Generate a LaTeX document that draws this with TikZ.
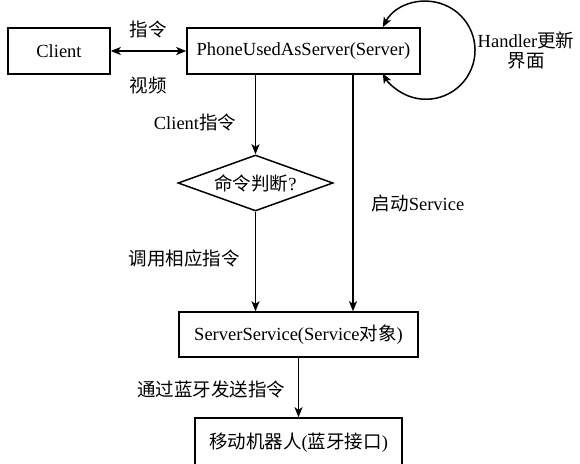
\documentclass[tikz,border=0pt]{standalone}
\usepackage{fontspec}
\setmainfont{Liberation Serif}
\newfontfamily\cjk{Noto Sans CJK SC}
\usetikzlibrary{shapes.geometric,arrows.meta,calc}
\tikzset{
  box/.style={draw,line width=1.5pt,inner sep=0pt},
  judgebox/.style={draw,diamond,line width=1.5pt,inner sep=0pt,aspect=2.77},
  flow/.style={line width=1.5pt,-{Stealth[length=10pt,width=8pt,inset=2.5pt]}},
  twoway/.style={line width=1.5pt,{Stealth[length=10pt,width=8pt,inset=2.5pt]}-{Stealth[length=10pt,width=8pt,inset=2.5pt]}},
  lbl/.style={inner sep=0pt}
}
\begin{document}
\begin{tikzpicture}[x=1pt,y=-1pt,font=\fontsize{18.5pt}{20pt}\selectfont]
\useasboundingbox (0,0) rectangle (580,463);
\clip (0,0) rectangle (580,463);
% 框
\node[box,minimum width=102pt,minimum height=46pt] (client) at (59,51) {Client};
\node[box,minimum width=233pt,minimum height=46pt] (server) at (303.5,51) {PhoneUsedAsServer(Server)};
\node[judgebox,minimum width=155pt,minimum height=56pt] (judge) at (255.5,183) {{\cjk 命令判断}?};
\node[box,minimum width=239pt,minimum height=45pt] (service) at (298.5,334.5) {ServerService(Service{\cjk 对象})};
\node[box,minimum width=207pt,minimum height=50pt] (robot) at (298.5,443) {{\cjk 移动机器人}({\cjk 蓝牙接口})};
% 连线
\draw[twoway] (client.east) -- (server.west);
\draw[twoway] ([xshift=-38pt]server.north east) arc[start angle=208,end angle=512,radius=49];
\draw[flow] (judge.north |- server.south) -- (judge.north);
\draw[flow] (judge.south) -- (judge.south |- service.north);
\coordinate (srvout) at ([xshift=49.5pt]server.south);
\draw[flow] (srvout) -- (srvout |- service.north);
\draw[flow] (service.south) -- (service.south |- robot.north);
% 文字
\node[lbl] (cmd) at (148,29) {\cjk 指令};
\node[lbl] (video) at (148,85) {\cjk 视频};
\node[lbl,align=center] (handler) at (526,50) {Handler{\cjk 更新}\\{\cjk 界面}};
\node[lbl] (clientcmd) at (195,122) {Client{\cjk 指令}};
\node[lbl] (start) at (418,203) {{\cjk 启动}Service};
\node[lbl] (call) at (184,258) {\cjk 调用相应指令};
\node[lbl] (bt) at (211,389) {\cjk 通过蓝牙发送指令};
\end{tikzpicture}
\end{document}
